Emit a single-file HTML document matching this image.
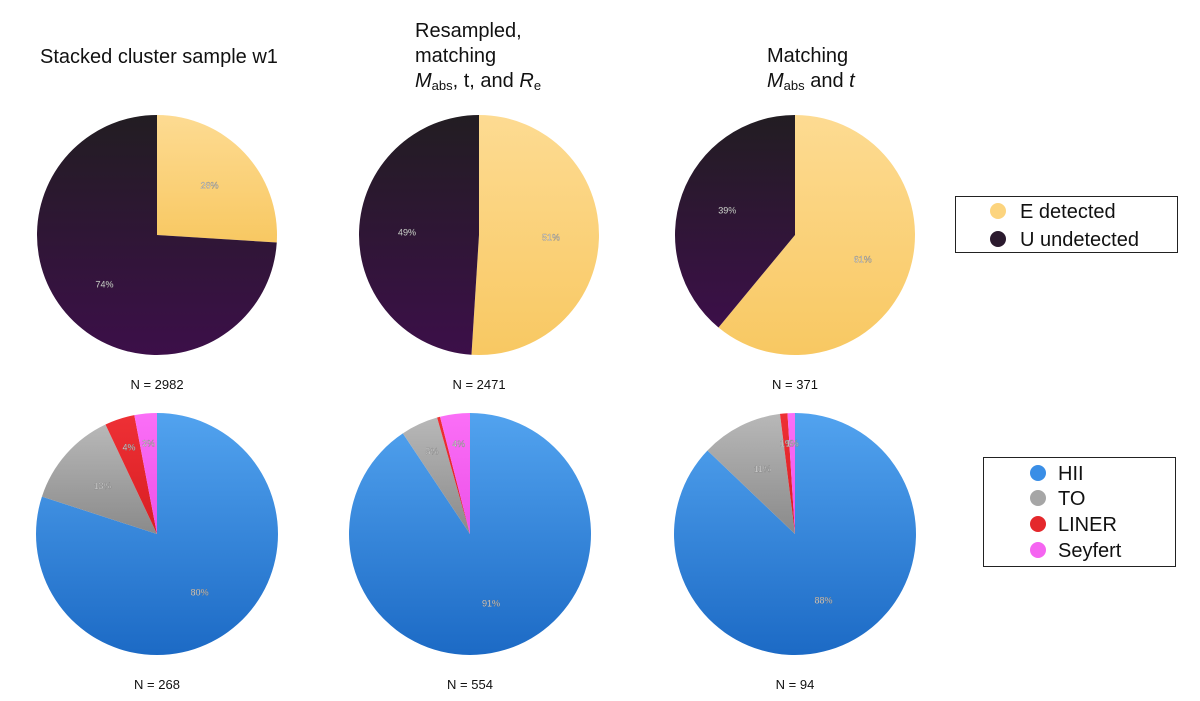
<!DOCTYPE html>
<html><head><meta charset="utf-8">
<style>
body{margin:0;background:#fff;}
svg{display:block;font-family:"Liberation Sans",Arial,sans-serif;}
</style></head>
<body>
<svg id="chart" width="1200" height="701" viewBox="0 0 1200 701">
<defs>
<linearGradient id="gE" x1="0" y1="0" x2="0" y2="1"><stop offset="0" stop-color="#fddb92"/><stop offset="1" stop-color="#f8c862"/></linearGradient>
<linearGradient id="gU" x1="0" y1="0" x2="0" y2="1"><stop offset="0" stop-color="#221d22"/><stop offset="1" stop-color="#3c0f49"/></linearGradient>
<linearGradient id="gH" x1="0" y1="0" x2="0" y2="1"><stop offset="0" stop-color="#52a3ef"/><stop offset="1" stop-color="#1c6ac5"/></linearGradient>
<linearGradient id="gT" x1="0" y1="0" x2="0" y2="1"><stop offset="0" stop-color="#b8b8b8"/><stop offset="1" stop-color="#8a8a8a"/></linearGradient>
<linearGradient id="gL" x1="0" y1="0" x2="0" y2="1"><stop offset="0" stop-color="#ee3035"/><stop offset="1" stop-color="#d81e22"/></linearGradient>
<linearGradient id="gS" x1="0" y1="0" x2="0" y2="1"><stop offset="0" stop-color="#fb6ff7"/><stop offset="1" stop-color="#ec50e8"/></linearGradient>
</defs>
<g font-size="20" fill="#111">
<text x="40" y="63">Stacked cluster sample w1</text>
<text x="415" y="37">Resampled,</text>
<text x="415" y="62">matching</text>
<text x="415" y="87"><tspan font-style="italic">M</tspan><tspan font-size="13" dy="3">abs</tspan><tspan dy="-3">, t, and </tspan><tspan font-style="italic">R</tspan><tspan font-size="13" dy="3">e</tspan></text>
<text x="767" y="62">Matching</text>
<text x="767" y="87"><tspan font-style="italic">M</tspan><tspan font-size="13" dy="3">abs</tspan><tspan dy="-3"> and </tspan><tspan font-style="italic">t</tspan></text>
</g>
<g id="pies"></g>
<g>
<rect x="955.5" y="196.5" width="222" height="56" fill="#fff" stroke="#222" stroke-width="1"/>
<circle cx="998" cy="211" r="8" fill="#fcd47e"/>
<text x="1020" y="218" font-size="20" fill="#111">E detected</text>
<circle cx="998" cy="239" r="8" fill="#2b1a2e"/>
<text x="1020" y="246" font-size="20" fill="#111">U undetected</text>
</g>
<g>
<rect x="983.5" y="457.5" width="192" height="109" fill="#fff" stroke="#222" stroke-width="1"/>
<circle cx="1038" cy="473" r="8" fill="#3a8ee6"/>
<text x="1058" y="480" font-size="20" fill="#111">HII</text>
<circle cx="1038" cy="498" r="8" fill="#a6a6a6"/>
<text x="1058" y="505" font-size="20" fill="#111">TO</text>
<circle cx="1038" cy="524" r="8" fill="#e4282c"/>
<text x="1058" y="531" font-size="20" fill="#111">LINER</text>
<circle cx="1038" cy="550" r="8" fill="#f565f1"/>
<text x="1058" y="557" font-size="20" fill="#111">Seyfert</text>
</g>
</svg>
<script>
const detCategories = ["E detected","U undetected"];
const detStacked = [26, 74];
const detResampled = [51, 49];
const detMatching = [61, 39];
const detN = [2982, 2471, 371];
const clsCategories = ["HII","TO","LINER","Seyfert"];
const clsStacked = [80, 13, 4, 3];
const clsResampled = [91, 5, 0.4, 4];
const clsMatching = [88, 11, 1, 1];
const clsLabels = [["80%","13%","4%","3%"],["91%","5%","","4%"],["88%","11%","1%","1%"]];
const detLabels = [["26%","74%"],["51%","49%"],["61%","39%"]];
const clsN = [268, 554, 94];

const NS="http://www.w3.org/2000/svg";
const g=document.getElementById('pies');
function mk(t,a){const e=document.createElementNS(NS,t);for(const k in a)e.setAttribute(k,a[k]);return e;}
function pie(cx,cy,r,vals,fills,labels,name,n,ny){
  const tot=vals.reduce((a,b)=>a+b,0);
  let a0=0;
  vals.forEach((v,i)=>{
    const a1=a0+v/tot*2*Math.PI;
    const x0=cx+r*Math.sin(a0),y0=cy-r*Math.cos(a0),x1=cx+r*Math.sin(a1),y1=cy-r*Math.cos(a1);
    const large=(a1-a0)>Math.PI?1:0;
    const p=mk('path',{d:`M${cx},${cy} L${x0},${y0} A${r},${r} 0 ${large} 1 ${x1},${y1} Z`,fill:fills[i]});
    
    
    g.appendChild(p);
    a0=a1;
  });
  a0=0;
  vals.forEach((v,i)=>{
    const a1=a0+v/tot*2*Math.PI, am=(a0+a1)/2;
    const rr=v/tot<0.08?r*0.75:r*0.6;
    if(labels[i]){
      const t=mk('text',{x:cx+rr*Math.sin(am),y:cy-rr*Math.cos(am)+3,'text-anchor':'middle','font-size':'9',fill:'#f2f2f2',stroke:'#666','stroke-width':'0.25'});
      t.textContent=labels[i];
      
      
      g.appendChild(t);
    }
    a0=a1;
  });
  const t=mk('text',{x:cx,y:ny,'text-anchor':'middle','font-size':'13',fill:'#111'});
  t.textContent='N = '+n;
  
  
  g.appendChild(t);
}
const dF=['url(#gE)','url(#gU)'], cF=['url(#gH)','url(#gT)','url(#gL)','url(#gS)'];
const topX=[157,479,795], botX=[157,470,795];
[detStacked,detResampled,detMatching].forEach((d,i)=>pie(topX[i],235,120,d,dF,detLabels[i],'detection-pie-'+i,detN[i],389));
[clsStacked,clsResampled,clsMatching].forEach((d,i)=>pie(botX[i],534,121,d,cF,clsLabels[i],'class-pie-'+i,clsN[i],689));
</script>
</body></html>
